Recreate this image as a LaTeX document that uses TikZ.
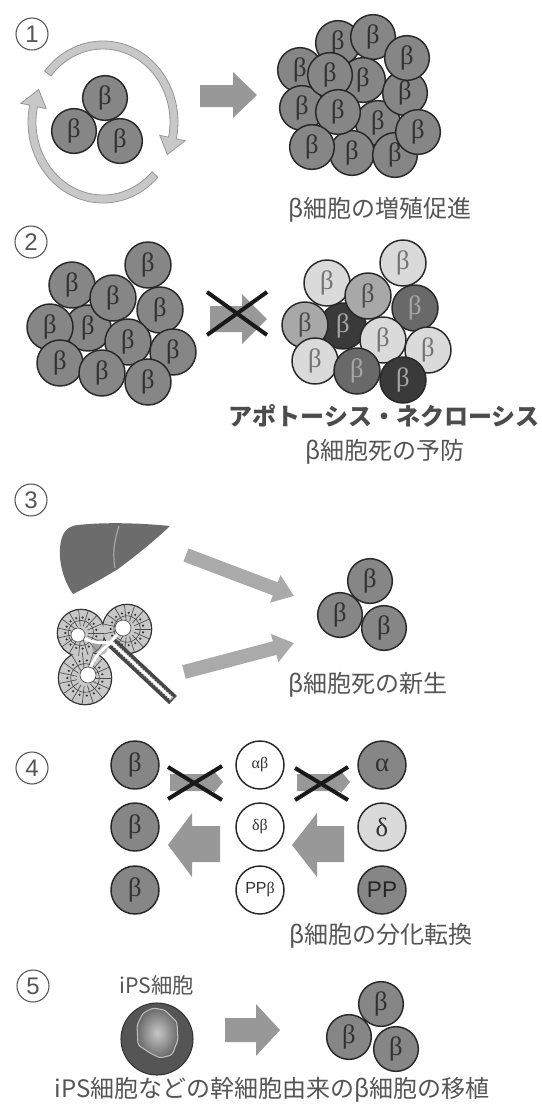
\documentclass[tikz,border=0pt]{standalone}
\usepackage{fontspec}
\setmainfont{Liberation Serif}
\newfontfamily\jpfont{Noto Sans CJK JP}
\newfontfamily\sansfont{Liberation Sans}
\usetikzlibrary{arrows.meta}
\definecolor{cellgray}{RGB}{134,134,134}
\definecolor{cellline}{RGB}{40,40,40}
\definecolor{celltext}{RGB}{50,50,50}
\definecolor{arrowgray}{RGB}{152,152,152}
\definecolor{arrowlight}{RGB}{170,170,170}
\definecolor{ringfill}{RGB}{200,200,200}
\definecolor{ringline}{RGB}{150,150,150}
\definecolor{labelgray}{RGB}{85,85,85}
\definecolor{lightcell}{RGB}{218,218,218}
\definecolor{midcell}{RGB}{168,168,168}
\definecolor{darkmidcell}{RGB}{105,105,105}
\definecolor{darkcell}{RGB}{58,58,58}
\definecolor{liver}{RGB}{108,108,108}
\definecolor{acinus}{RGB}{200,200,200}
\definecolor{ductgray}{RGB}{70,70,70}
\definecolor{ipsdark}{RGB}{85,85,85}
\begin{document}
\begin{tikzpicture}[x=0.75pt,y=-0.75pt,
  cell/.style={circle, draw=cellline, line width=1.1pt, fill=cellgray,
    minimum size=33.5pt, inner sep=0pt,
    font=\fontsize{20pt}{20pt}\selectfont, text=celltext},
  lightc/.style={cell, fill=lightcell, text=black!55},
  midc/.style={cell, fill=midcell, text=black!70},
  dmidc/.style={cell, fill=darkmidcell, text=black!35},
  darkc/.style={cell, fill=darkcell, text=black!35},
  bigcell/.style={cell, minimum size=36pt},
  numbermark/.style={circle, draw=labelgray, line width=0.8pt, minimum size=24pt,
    inner sep=0pt, font=\sansfont\fontsize{18pt}{18pt}\selectfont, text=labelgray},
  caption/.style={font=\jpfont\fontsize{18pt}{20pt}\selectfont, text=labelgray, inner sep=0pt},
  blockarrow/.style={fill=arrowgray},
  crossline/.style={draw=black!90, line width=3pt},
  ringarrow/.style={fill=ringfill, draw=ringline, line width=0.6pt},
  fatarrow/.style={draw=arrowlight, line width=10.5pt, -{Triangle[length=15pt,width=21pt]}},
]
\useasboundingbox (0,0) rectangle (542,1108);
\fill[white] (0,0) rectangle (542,1108);

% ---------- section numbers ----------
\node[numbermark] (n1) at (32,34) {1};
\node[numbermark] (n2) at (31,242) {2};
\node[numbermark] (n3) at (31,500) {3};
\node[numbermark] (n4) at (32,768) {4};
\node[numbermark] (n5) at (33,986) {5};

% ---------- 1: proliferation ----------
\begin{scope}[shift={(103,122)}]
  \path[ringarrow] (-141:75 and 81) arc[start angle=-141, end angle=12, x radius=75, y radius=81]
    -- (12:84 and 90) -- (25:71 and 77) -- (12:58 and 64) -- (12:67 and 73)
    arc[start angle=12, end angle=-141, x radius=67, y radius=73] -- cycle;
  \path[ringarrow] (43:75 and 81) arc[start angle=43, end angle=192, x radius=75, y radius=81]
    -- (192:84 and 90) -- (205:71 and 77) -- (192:58 and 64) -- (192:67 and 73)
    arc[start angle=192, end angle=43, x radius=67, y radius=73] -- cycle;
\end{scope}
\begin{scope}[shift={(105,98)}]
  \node[cell] (s1l) at (-31,33) {β};
  \node[cell] (s1t) at (0,0) {β};
  \node[cell] (s1r) at (15,43) {β};
\end{scope}
\fill[blockarrow] (200,85) -- (233,85) -- (233,72) -- (257,95) -- (233,118) -- (233,107) -- (200,107) -- cycle;
\foreach \n/\x/\y in {1/338/43, 2/373/37, 4/300/70, 6/363/80, 8/302/108, 10/378/123,
    13/352/153, 7/405/93, 3/407/58, 5/330/75, 9/338/112, 12/312/147, 14/395/155, 11/418/132}
  \node[cell] (g\n) at (\x,\y) {β};
\node[caption] (cap1) at (380,210) {β細胞の増殖促進};

% ---------- 2: protection from cell death ----------
\foreach \n/\x/\y in {6/88/328, 1/72/285, 2/148/265, 3/113/298, 4/160/310, 5/50/327,
    7/128/342, 8/173/352, 9/60/363, 10/102/373, 11/148/382}
  \node[cell, minimum size=34.5pt] (h\n) at (\x,\y) {β};
\fill[blockarrow] (210,306) -- (242,306) -- (242,294) -- (267,319) -- (242,344) -- (242,332) -- (210,332) -- cycle;
\draw[crossline] (207,292) -- (267,335);
\draw[crossline] (207,335) -- (267,292);
\begin{scope}[shift={(255,-2)}]
  \node[darkc, minimum size=34.5pt]  (d6)  at (88,328)  {β};
  \node[lightc, minimum size=34.5pt] (d1)  at (72,285)  {β};
  \node[lightc, minimum size=34.5pt] (d2)  at (148,265) {β};
  \node[midc, minimum size=34.5pt]   (d3)  at (113,298) {β};
  \node[dmidc, minimum size=34.5pt]  (d4)  at (160,310) {β};
  \node[midc, minimum size=34.5pt]   (d5)  at (50,327)  {β};
  \node[lightc, minimum size=34.5pt] (d7)  at (128,342) {β};
  \node[lightc, minimum size=34.5pt] (d8)  at (173,352) {β};
  \node[lightc, minimum size=34.5pt] (d9)  at (60,363)  {β};
  \node[dmidc, minimum size=34.5pt]  (d10) at (102,373) {β};
  \node[darkc, minimum size=34.5pt]  (d11) at (148,382) {β};
\end{scope}
\node[caption, font=\jpfont\bfseries\fontsize{18pt}{20pt}\selectfont, text=black!70] (cap2a) at (384,416) {アポトーシス・ネクローシス};
\node[caption] (cap2b) at (385,452) {β細胞死の予防};

% ---------- 3: neogenesis ----------
\fill[liver] (78,525) .. controls (105,522) and (140,523) .. (170,526)
  .. controls (150,545) and (130,560) .. (118,569)
  .. controls (100,580) and (85,588) .. (73,594)
  .. controls (63,580) and (59,562) .. (60,548)
  .. controls (61,533) and (67,526) .. (78,525) -- cycle;
\draw[black!35, line width=0.9pt] (119,526) .. controls (113,545) and (113,556) .. (115,568);

% acinus: three lobes of wedge-shaped cells around white lumens, with a duct
\foreach \cx/\cy/\r in {81/633/23, 127/629/24, 85/678/26}
  \fill[black!80] (\cx,\cy) circle (\r+1.3);
\foreach \cx/\cy/\r in {81/633/23, 127/629/24, 85/678/26}
  \fill[acinus] (\cx,\cy) circle (\r);
\foreach \cx/\cy/\r/\lr in {81/633/23/7, 127/629/24/8, 85/678/26/8}{
  \foreach \a in {0,24,...,336}{
    \draw[black!70, line width=0.5pt] ([shift={(\a:\lr)}]\cx,\cy) -- ([shift={(\a:\r)}]\cx,\cy);
    \fill[black!80] ([shift={(\a+12:0.68*\r)}]\cx,\cy) circle (1.2);
  }
  \draw[black!70, line width=0.5pt] (\cx,\cy) circle (0.55*\r);
}
\fill[black!45, opacity=0.6] (100,647) circle (8);
\draw[ductgray, line width=8.5pt] (110,641) -- (173,700);
\draw[black!30, line width=3.6pt, dash pattern=on 1.2pt off 1.2pt] (110,641) -- (173,700);
\draw[white, line width=2.2pt] (110,641) -- (171,698);
\draw[white, line width=2.2pt] (78,635) .. controls (92,644) and (102,643) .. (111,642);
\draw[white, line width=2.2pt] (88,675) .. controls (92,660) and (100,650) .. (111,643);
\draw[white, line width=2.2pt] (123,628) .. controls (118,634) and (114,638) .. (111,642);
\foreach \cx/\cy/\r in {78/635/7, 123/628/8, 88/675/8}
  \filldraw[fill=white, draw=black!70, line width=0.5pt] (\cx,\cy) circle (\r);

\coordinate (a3s) at (186,555);
\coordinate (a3e) at (294,596);
\coordinate (b3s) at (184,672);
\coordinate (b3e) at (294,643);
\draw[fatarrow] (a3s) -- (a3e);
\draw[fatarrow] (b3s) -- (b3e);
\begin{scope}[shift={(370,581)}]
  \node[cell] (s3l) at (-30,34) {β};
  \node[cell] (s3t) at (0,0) {β};
  \node[cell] (s3r) at (14,47) {β};
\end{scope}
\node[caption] (cap3) at (368,685) {β細胞死の新生};

% ---------- 4: transdifferentiation ----------
\node[bigcell] (b1) at (135,765) {β};
\node[bigcell] (b2) at (135,827) {β};
\node[bigcell] (b3) at (135,890) {β};
\node[bigcell, fill=white, font=\fontsize{12pt}{12pt}\selectfont] (m1) at (260,765) {αβ};
\node[bigcell, fill=white, font=\fontsize{12pt}{12pt}\selectfont] (m2) at (260,827) {δβ};
\node[bigcell, fill=white, font=\fontsize{12pt}{12pt}\selectfont] (m3) at (260,890) {{\sansfont PP}β};
\node[bigcell, font=\fontsize{20pt}{20pt}\selectfont] (r1) at (382,765) {α};
\node[bigcell, fill=lightcell, font=\fontsize{20pt}{20pt}\selectfont] (r2) at (382,827) {δ};
\node[bigcell, font=\sansfont\fontsize{17pt}{17pt}\selectfont, text=black!85] (r3) at (382,890) {PP};

\fill[blockarrow] (170,774) -- (213,774) -- (214,771) -- (223,782) -- (214,793) -- (213,791) -- (170,791) -- cycle;
\fill[blockarrow] (297,774) -- (340,774) -- (341,771) -- (350,782) -- (341,793) -- (340,791) -- (297,791) -- cycle;
\draw[crossline] (168,767) -- (222,800);
\draw[crossline] (168,799) -- (222,766);
\draw[crossline] (295,768) -- (348,800);
\draw[crossline] (295,800) -- (348,767);
\fill[blockarrow] (168,845) -- (192,813) -- (192,826) -- (220,826) -- (220,862) -- (192,862) -- (192,877) -- cycle;
\fill[blockarrow] (292,845) -- (317,813) -- (317,826) -- (344,826) -- (344,862) -- (317,862) -- (317,877) -- cycle;
\node[caption] (cap4) at (381,936) {β細胞の分化転換};

% ---------- 5: transplantation ----------
\node[caption, font=\jpfont\fontsize{16pt}{18pt}\selectfont] (ipslabel) at (157,985) {iPS細胞};
\node[circle, fill=ipsdark, draw=black!80, line width=0.8pt, minimum size=54pt, inner sep=0pt] (ips) at (157,1039) {};
\shade[inner color=black!22, outer color=black!58, rounded corners=2pt]
  (143,1013) -- (153,1008) -- (165,1010) -- (177,1022) -- (178,1040) -- (172,1055)
  -- (160,1058) -- (150,1053) -- (138,1045) -- (137,1025) -- cycle;
\draw[black!25, line width=0.8pt, rounded corners=2pt]
  (143,1013) -- (153,1008) -- (165,1010) -- (177,1022) -- (178,1040) -- (172,1055)
  -- (160,1058) -- (150,1053) -- (138,1045) -- (137,1025) -- cycle;
\fill[blockarrow] (225,1018) -- (256,1018) -- (256,1004) -- (280,1030) -- (256,1056) -- (256,1042) -- (225,1042) -- cycle;
\begin{scope}[shift={(381,1004)}]
  \node[cell] (s5l) at (-32,33) {β};
  \node[cell] (s5t) at (0,0) {β};
  \node[cell] (s5r) at (15,45) {β};
\end{scope}
\node[caption] (cap5) at (272,1090) {iPS細胞などの幹細胞由来のβ細胞の移植};
\end{tikzpicture}
\end{document}
